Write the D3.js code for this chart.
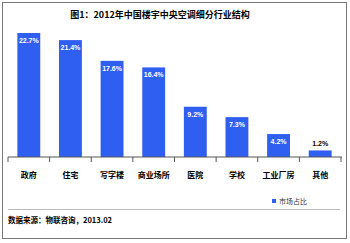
<!DOCTYPE html>
<html>
<head>
<meta charset="utf-8">
<script src="https://cdn.jsdelivr.net/npm/d3@7"></script>
<style>
  body { margin: 0; background: #fff; }
  svg { display: block; font-family: "Noto Sans CJK SC", sans-serif; }
</style>
</head>
<body>
<svg id="chart" width="350" height="243"></svg>
<script>
// data
const categories = ['政府', '住宅', '写字楼', '商业场所', '医院', '学校', '工业厂房', '其他'];
const share = [22.7, 21.4, 17.6, 16.4, 9.2, 7.3, 4.2, 1.2];
const title = '图1：2012年中国楼宇中央空调细分行业结构';
const seriesName = '市场占比';
const source = '数据来源：物联咨询，2013.02';

const svg = d3.select('svg#chart');
const blue = '#2f5ff0';

// outer frame
svg.append('rect')
  .attr('x', 2.5).attr('y', 2.5).attr('width', 344).attr('height', 236)
  .attr('fill', '#fff').attr('stroke', '#777');

svg.append('text')
  .attr('x', 160).attr('y', 18)
  .attr('text-anchor', 'middle')
  .attr('font-size', 9).attr('font-weight', 'bold')
  .text(title);

const x = d3.scaleBand().domain(categories).range([8, 341]).paddingInner(0.45).paddingOuter(0.225);
const y = d3.scaleLinear().domain([0, 22.7]).range([157, 33]);

const g = svg.append('g');
g.selectAll('rect.bar')
  .data(share)
  .join('rect')
  .attr('class', 'bar')
  .attr('x', (d, i) => x(categories[i]))
  .attr('y', d => y(d))
  .attr('width', x.bandwidth())
  .attr('height', d => y(0) - y(d))
  .attr('fill', blue);

g.selectAll('text.val')
  .data(share)
  .join('text')
  .attr('class', 'val')
  .attr('x', (d, i) => x(categories[i]) + x.bandwidth() / 2)
  .attr('y', d => d < 3 ? y(d) - 4 : y(d) + 10)
  .attr('text-anchor', 'middle')
  .attr('font-size', 7).attr('font-weight', 'bold')
  .attr('font-family', 'Liberation Sans, Arial, sans-serif')
  .attr('fill', d => d < 3 ? '#000' : '#fff')
  .text(d => d.toFixed(1) + '%');

// category axis with ticks between bands
const axis = svg.append('g').attr('transform', 'translate(0,157)');
axis.append('line').attr('x1', 8).attr('x2', 342).attr('stroke', '#555');
const bounds = categories.map(c => x(c) - x.step() * x.paddingInner() / 2).concat([341]);
axis.selectAll('line.tick')
  .data(bounds)
  .join('line')
  .attr('class', 'tick')
  .attr('x1', d => d).attr('x2', d => d)
  .attr('y1', 0).attr('y2', 5)
  .attr('stroke', '#555');
axis.selectAll('text')
  .data(categories)
  .join('text')
  .attr('x', d => x(d) + x.bandwidth() / 2)
  .attr('y', 21)
  .attr('text-anchor', 'middle')
  .attr('font-size', 8).attr('font-weight', 'bold')
  .text(d => d);

// legend
svg.append('rect').attr('x', 272).attr('y', 199).attr('width', 4).attr('height', 4).attr('fill', blue);
svg.append('text').attr('x', 279).attr('y', 204)
  .attr('font-size', 7).attr('fill', '#333').text(seriesName);

svg.append('line').attr('x1', 8).attr('x2', 340).attr('y1', 209.5).attr('y2', 209.5)
  .attr('stroke', '#bbb');

svg.append('text').attr('x', 8).attr('y', 223)
  .attr('font-size', 7.5).attr('font-weight', 'bold').text(source);
</script>
</body>
</html>
